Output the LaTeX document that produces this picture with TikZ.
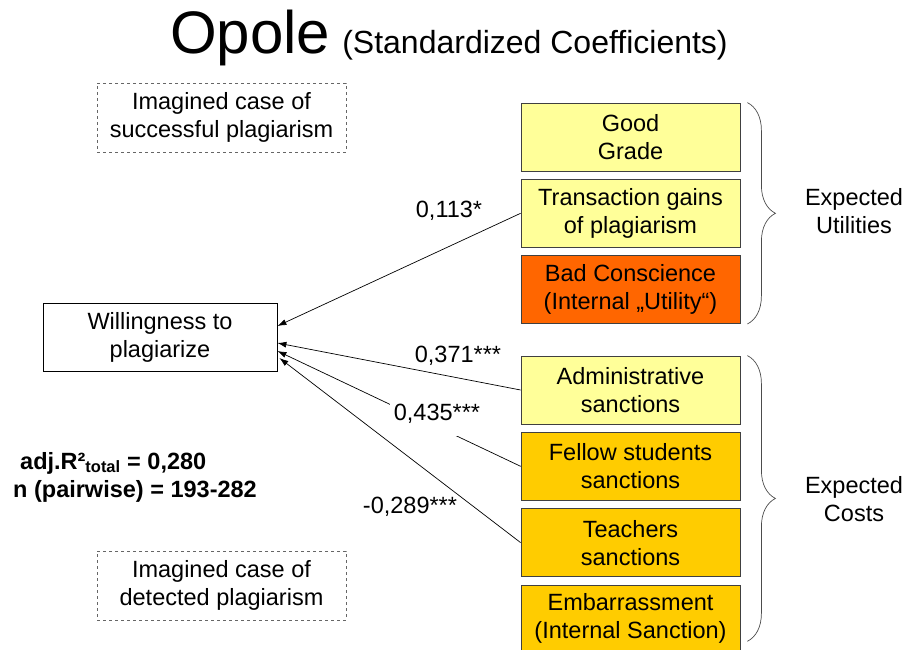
\documentclass[tikz,border=0pt]{standalone}
\usepackage{fontspec}
\setmainfont{Liberation Sans}
\usetikzlibrary{arrows.meta,positioning,decorations.pathreplacing}
\definecolor{paleyellow}{HTML}{FFFF99}
\definecolor{orangebox}{HTML}{FF6600}
\definecolor{goldbox}{HTML}{FFCC00}

\begin{document}
\begin{tikzpicture}[x=1pt,y=-1pt,>={Latex[length=9pt,width=6pt]},
	every node/.style={font=\fontsize{23.5}{28}\selectfont,align=center},
	factor/.style={draw=black!75,line width=0.8pt,minimum width=219pt,minimum height=68pt,inner sep=0pt},
	scenario/.style={draw=black!60,dashed,line width=0.7pt,minimum width=249pt,minimum height=69pt,inner sep=0pt},
	coef/.style={anchor=base,inner sep=1pt},
	group/.style={decorate,decoration={brace,amplitude=28pt},draw=black!70,line width=0.7pt}]
	\useasboundingbox (0,0) rectangle (907,650);

	\node[anchor=base west,inner sep=0pt] (title) at (170,54)
		{{\fontsize{60}{70}\selectfont Opole}\hspace{12pt}{\fontsize{32}{38}\selectfont (Standardized Coefficients)}};

	\node[scenario] (success) at (221.5,117.5) {Imagined case of\\successful plagiarism};
	\node[scenario] (detected) at (221.5,585.5) {Imagined case of\\detected plagiarism};
	\node[draw,line width=0.8pt,minimum width=234pt,minimum height=68pt,inner sep=0pt] (will) at (160,337) {Willingness to\\plagiarize};

	% expected utilities
	\node[factor,fill=paleyellow] (grade) at (630.5,137) {Good\\Grade};
	\node[factor,fill=paleyellow,below=7.5pt of grade] (gains) {Transaction gains\\of plagiarism};
	\node[factor,fill=orangebox,below=7.5pt of gains] (conscience) {Bad Conscience\\(Internal „Utility“)};
	% expected costs
	\node[factor,fill=paleyellow] (admin) at (630.5,390) {Administrative\\sanctions};
	\node[factor,fill=goldbox,below=7.5pt of admin] (fellow) {Fellow students\\sanctions};
	\node[factor,fill=goldbox,below=7.5pt of fellow] (teacher) {Teachers\\sanctions};
	\node[factor,fill=goldbox,below=7.5pt of teacher] (shame) {Embarrassment\\(Internal Sanction)};

	\path[->,line width=0.7pt]
	(gains.west)   edge ([yshift=11pt]will.east)
	(admin.west)   edge ([yshift=-6pt]will.east)
	(fellow.west)  edge ([yshift=-14pt]will.east)
	(teacher.west) edge ([xshift=2pt,yshift=-21pt]will.east)
	;

	\node[coef] (c1) at (449,217) {0,113*};
	\node[coef] (c2) at (458,362) {0,371***};
	\node[coef,fill=white,inner xsep=4pt,inner ysep=4pt,text depth=12pt] (c3) at (437,420) {0,435***};
	\node[coef] (c4) at (410,513) {-0,289***};

	\node[anchor=west,align=left,inner sep=0pt,font=\fontsize{23.5}{28}\selectfont\bfseries] (stats) at (13,477)
		{\hspace*{7pt}adj.R²\textsubscript{total} = 0,280\\n (pairwise) = 193-282};

	\draw[group] ([xshift=7pt]grade.north east) -- ([xshift=7pt]conscience.south east);
	\draw[group] ([xshift=7pt]admin.north east) -- ([xshift=7pt,yshift=12pt]shame.south east);
	\node (utilities) at (854,211) {Expected\\Utilities};
	\node (costs) at (854,499) {Expected\\Costs};
\end{tikzpicture}
\end{document}
